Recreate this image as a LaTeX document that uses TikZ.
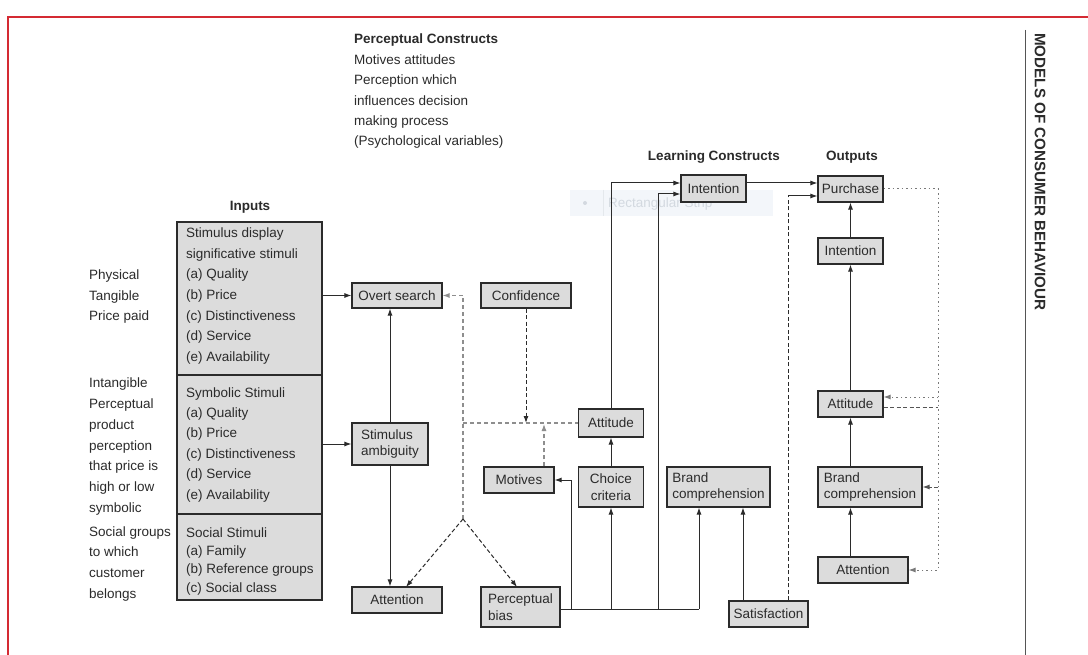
\documentclass[tikz,border=0pt]{standalone}
\usepackage{fontspec}
\setmainfont{Liberation Sans}
\usetikzlibrary{arrows.meta}
\definecolor{boxfill}{HTML}{DCDCDC}
\definecolor{ink}{HTML}{2B2B2B}
\definecolor{framered}{HTML}{D42A33}
\definecolor{dashgray}{HTML}{8E8E8E}
\definecolor{stripfill}{HTML}{F3F6FA}
\definecolor{stripink}{HTML}{D3D9E0}
\begin{document}
\begin{tikzpicture}[x=1pt,y=-1pt,
  txt/.style={font=\fontsize{13.5}{16}\selectfont, text=ink, inner sep=0pt},
  head/.style={font=\fontsize{13.5}{16}\selectfont\bfseries, text=ink, inner sep=0pt},
  box/.style={draw=ink, line width=1.1pt, fill=boxfill, inner sep=0pt, align=left,
    font=\fontsize{13.5}{16.5}\selectfont, text=ink},
  tip/.style={-{Latex[length=7pt,width=5pt]}},
  arr/.style={draw=ink, line width=1pt, tip},
  line/.style={draw=ink, line width=1pt},
  gdash/.style={draw=dashgray, line width=1.1pt, dash pattern=on 4pt off 3pt},
  ddash/.style={draw=ink, line width=1pt, dash pattern=on 4pt off 2.5pt},
  fdot/.style={draw=dashgray!85!black, line width=1pt, dash pattern=on 1.5pt off 3pt},
]
\useasboundingbox (0,0) rectangle (1088,655);
\fill[white] (0,0) rectangle (1088,655);

% page frame and margin rule
\draw[framered, line width=1.4pt] (1088,17) -- (8,17) -- (8,655);
\draw[ink!80, line width=1pt] (1025,30) -- (1025,655);
\node[rotate=-90, font=\fontsize{15.2}{18}\selectfont\bfseries, text=ink, inner sep=0pt]
  (title) at (1040,172) {MODELS OF CONSUMER BEHAVIOUR};

% faint strip behind the learning column
\node[fill=stripfill, minimum width=203pt, minimum height=26pt, inner sep=0pt, anchor=north west] (strip) at (570,190) {};
\draw[stripink!60, line width=0.6pt] (603,190) -- (603,216);
\fill[stripink] (585,203) circle (2pt);
\node[txt, text=stripink, anchor=base west] (striptxt) at (608,208) {Rectangular Strip};

% perceptual constructs caption
\node[head, anchor=base west] (pc) at (354,44) {Perceptual Constructs};
\foreach \t [count=\i from 1] in {Motives attitudes, Perception which, influences decision, making process, (Psychological variables)}
  \node[txt, anchor=base west] (pc\i) at (354,{44+20.4*\i}) {\t};

% column headings
\node[head] (hin) at (250,207) {Inputs};
\node[head] (hlc) at (714,157) {Learning Constructs};
\node[head] (hout) at (852,157) {Outputs};

% input boxes
\node[box, minimum width=145pt, minimum height=153pt] (sd) at (249.5,298.5) {};
\node[box, minimum width=145pt, minimum height=139pt] (sym) at (249.5,444.5) {};
\node[box, minimum width=145pt, minimum height=86pt] (soc) at (249.5,557) {};
\foreach \t [count=\i from 0] in {Stimulus display, significative stimuli, (a) Quality, (b) Price, (c) Distinctiveness, (d) Service, (e) Availability}
  \node[txt, anchor=base west] (sdt\i) at (186,{238+20.5*\i}) {\t};
\foreach \t [count=\i from 0] in {Symbolic Stimuli, (a) Quality, (b) Price, (c) Distinctiveness, (d) Service, (e) Availability}
  \node[txt, anchor=base west] (symt\i) at (186,{397+20.4*\i}) {\t};
\foreach \t [count=\i from 0] in {Social Stimuli, (a) Family, (b) Reference groups, (c) Social class}
  \node[txt, anchor=base west] (soct\i) at (186,{537+18.4*\i}) {\t};

% side notes
\foreach \t [count=\i from 0] in {Physical, Tangible, Price paid}
  \node[txt, anchor=base west] (na\i) at (89,{280+20.5*\i}) {\t};
\foreach \t [count=\i from 0] in {Intangible, Perceptual, product, perception, that price is, high or low, symbolic}
  \node[txt, anchor=base west] (nb\i) at (89,{388+20.7*\i}) {\t};
\foreach \t [count=\i from 0] in {Social groups, to which, customer, belongs}
  \node[txt, anchor=base west] (nc\i) at (89,{536+20.7*\i}) {\t};

% perceptual constructs
\node[box, minimum width=90pt, minimum height=25pt] (overt) at (397,295.5) {Overt search};
\node[box, minimum width=90pt, minimum height=25pt] (conf) at (526,295.5) {Confidence};
\node[box, minimum width=76pt, minimum height=42pt] (stim) at (390,444) {Stimulus\\ambiguity};
\node[box, minimum width=90pt, minimum height=26pt] (attL) at (397,600) {Attention};
\node[box, minimum width=70pt, minimum height=26pt] (mot) at (519,480) {Motives};
\node[box, minimum width=79pt, minimum height=40pt] (pbias) at (520.5,607) {Perceptual\\bias};

% learning constructs
\node[box, minimum width=65pt, minimum height=40pt, align=center] (choice) at (611,487) {Choice\\criteria};
\node[box, minimum width=65pt, minimum height=28pt] (attM) at (611,423) {Attitude};
\node[box, minimum width=65pt, minimum height=27pt] (intL) at (713.5,188.5) {Intention};
\node[box, minimum width=103pt, minimum height=40pt] (bcM) at (718.5,487) {Brand\\comprehension};
\node[box, minimum width=79pt, minimum height=26pt] (sat) at (768.5,614) {Satisfaction};

% outputs
\node[box, minimum width=65pt, minimum height=26pt] (purch) at (850.5,189) {Purchase};
\node[box, minimum width=65pt, minimum height=26pt] (intR) at (850.5,251) {Intention};
\node[box, minimum width=65pt, minimum height=26pt] (attR) at (850.5,404) {Attitude};
\node[box, minimum width=104pt, minimum height=40pt] (bcR) at (870,487) {Brand\\comprehension};
\node[box, minimum width=90pt, minimum height=26pt] (attnR) at (863,570) {Attention};

% inputs to perceptual constructs
\draw[arr] (overt.west -| sd.east) -- (overt.west);
\draw[arr] (stim.west -| sym.east) -- (stim.west);
\draw[arr] (stim.north) -- (stim.north |- overt.south);
\draw[arr] (stim.south) -- (stim.south |- attL.north);

% feedback into overt search, attention and perceptual bias
\coordinate (split) at (463,519);
\draw[gdash, tip] (split) |- (overt.east);
\draw[gdash] (split |- attM.west) -- (attM.west);
\draw[ddash, tip] (split) -- (406,587);
\draw[ddash, tip] (split) -- (517,587);
\draw[ddash, tip] (conf.south) -- (conf.south |- attM.west);
\draw[gdash, tip] (mot.north -| 544,0) -- (544,424);

% perceptual bias bus
\coordinate (bus) at (560,609);
\draw[line] (bus) -- (699,609);
\draw[arr] (571,609) |- (mot.east);
\draw[arr] (choice.south |- bus) -- (choice.south);
\draw[arr] (658,609) |- ([yshift=-5.5pt]intL.west);
\draw[arr] (699,609) -- (699,0 |- bcM.south);
\draw[arr] (choice.north) -- (attM.south);
\draw[arr] (attM.north) |- ([yshift=5.5pt]intL.west);

% satisfaction
\draw[arr] (743,0 |- sat.north) -- (743,0 |- bcM.south);
\coordinate (satup) at (788,196);
\draw[ddash] (788,0 |- sat.north) -- (satup);
\draw[arr] (satup) -- (satup -| purch.west);

% outputs chain
\draw[arr] ([yshift=5.5pt]intL.east) -- ([yshift=5.5pt]intL.east -| purch.west);
\draw[arr] (intR.north) -- (purch.south);
\draw[arr] (attR.north) -- (intR.south);
\draw[arr] (bcR.north -| attR.south) -- (attR.south);
\draw[arr] (attnR.north -| attR.south) -- (bcR.south -| attR.south);

% purchase feedback
\coordinate (fb) at (938,570);
\draw[fdot, tip] (purch.east) -| (fb) -- (attnR.east);
\draw[fdot, tip] (938,397) -- ([yshift=7pt]attR.east);
\draw[ddash, draw=ink!80] ([yshift=-3pt]attR.east) -- (938,407);
\draw[ddash, draw=ink!80, tip] (938,487) -- (bcR.east);
\end{tikzpicture}
\end{document}
